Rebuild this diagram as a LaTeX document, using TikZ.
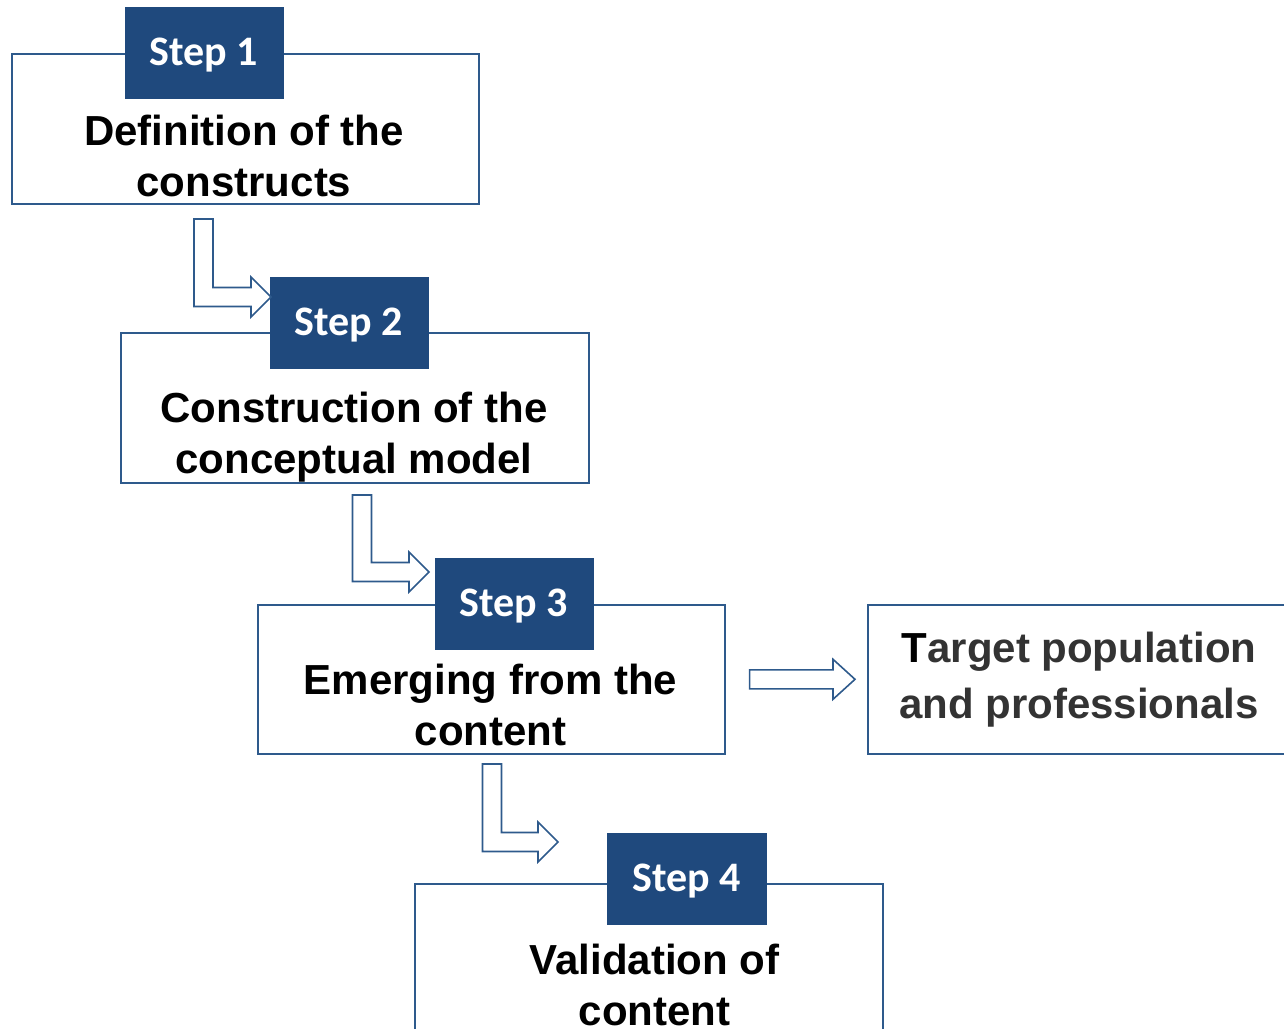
\documentclass[tikz,border=0pt]{standalone}
\usepackage{fontspec}
\setmainfont{Liberation Sans}
\newfontfamily\stepfont{Carlito}
\usetikzlibrary{calc}
\definecolor{tabblue}{HTML}{1F497D}
\definecolor{lineblue}{HTML}{2E5A8C}
\definecolor{darktext}{HTML}{333333}
\tikzset{
  box/.style={draw=lineblue, line width=1.6pt, fill=white, rectangle, inner sep=0pt, anchor=north west},
  tab/.style={fill=tabblue, draw=tabblue, line width=0.5pt, rectangle, inner sep=0pt, anchor=north west},
  steplabel/.style={anchor=base, text=white, font=\stepfont\bfseries\fontsize{42}{50}\selectfont, inner sep=0pt},
  maintext/.style={anchor=base, align=center, font=\bfseries\fontsize{42}{51}\selectfont, inner sep=0pt},
  blockarrow/.style={draw=lineblue, line width=1.6pt, fill=white, line join=miter}
}
\newcommand\bentarrow[2]{%
  \draw[blockarrow] ($(#1)+(-9.5,0)$) -- ($(#1)+(9.5,0)$) -- ($(#1|-#2)+(9.5,-9.5)$)
    -- ($(#2)+(-20,-9.5)$) -- ($(#2)+(-20,-20)$) -- (#2) -- ($(#2)+(-20,20)$)
    -- ($(#2)+(-20,9.5)$) -- ($(#1|-#2)+(-9.5,9.5)$) -- cycle;}
\begin{document}
\begin{tikzpicture}[x=1pt,y=-1pt]
\useasboundingbox (0,0) rectangle (1284,1028);
\clip (0,0) rectangle (1284,1028);
% boxes
\node[box, minimum width=467, minimum height=150] (b1) at (11,53) {};
\node[box, minimum width=468, minimum height=150] (b2) at (120,332) {};
\node[box, minimum width=467, minimum height=149] (b3) at (257,604) {};
\node[box, minimum width=468, minimum height=170] (b4) at (414,883) {};
\node[box, minimum width=430, minimum height=149] (b5) at (867,604) {};
% tabs
\node[tab, minimum width=158, minimum height=91] (t1) at (125,7) {};
\node[tab, minimum width=158, minimum height=91] (t2) at (270,277) {};
\node[tab, minimum width=158, minimum height=91] (t3) at (435,558) {};
\node[tab, minimum width=159, minimum height=91] (t4) at (607,833) {};
% step labels
\node[steplabel] (s1) at (204,65) {Step 1};
\node[steplabel] (s2) at (349,335) {Step 2};
\node[steplabel] (s3) at (514,616) {Step 3};
\node[steplabel] (s4) at (686.5,891) {Step 4};
% texts (base anchor = baseline of the last line)
\node[maintext] (x1) at (244,196) {Definition of the\\constructs};
\node[maintext] (x2) at (354,473) {Construction of the\\conceptual model};
\node[maintext] (x3) at (490.5,745) {Emerging from the\\content};
\node[maintext] (x4) at (654.5,1025) {Validation of\\content};
\node[maintext, text=darktext, font=\bfseries\fontsize{42}{56}\selectfont] (x5) at (1079,718) {{\color{black}T}arget population\\and professionals};
% bent arrows
\coordinate (a1s) at (203.5,219);
\coordinate (a1t) at ($(t2.north west)+(1,20)$);
\coordinate (a2s) at (362,495);
\coordinate (a2t) at ($(t3.north west)+(-6,14)$);
\coordinate (a3s) at (492,764);
\coordinate (a3t) at ($(t4.north west)+(-49,9)$);
\bentarrow{a1s}{a1t}
\bentarrow{a2s}{a2t}
\bentarrow{a3s}{a3t}
% straight arrow
\coordinate (r1) at ($(b3.east)+(24,0)$);
\coordinate (r2) at ($(b5.west)+(-12,0)$);
\draw[blockarrow] ($(r1)+(0,-9.5)$) -- ($(r2)+(-22,-9.5)$) -- ($(r2)+(-22,-20)$) -- (r2)
  -- ($(r2)+(-22,20)$) -- ($(r2)+(-22,9.5)$) -- ($(r1)+(0,9.5)$) -- cycle;
\end{tikzpicture}
\end{document}
